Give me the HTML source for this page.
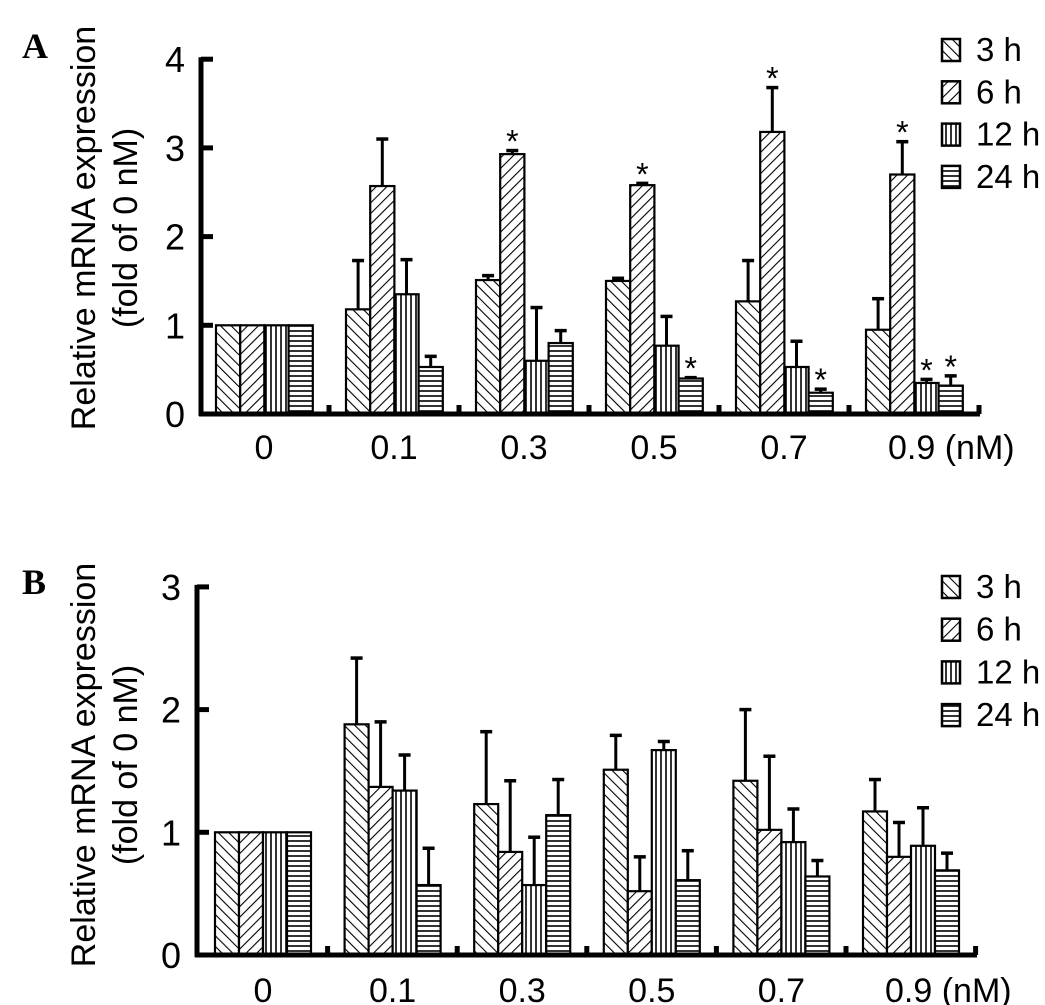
<!DOCTYPE html>
<html><head><meta charset="utf-8"><style>
html,body{margin:0;padding:0;background:#fff;}
svg{display:block;font-family:"Liberation Sans",sans-serif;}
</style></head><body>
<svg id="chart" width="1045" height="1005" viewBox="0 0 1045 1005">
<defs>
<pattern id="p3" patternUnits="userSpaceOnUse" width="7.5" height="7.5" patternTransform="rotate(-45)"><rect width="7.5" height="7.5" fill="#fff"/><line x1="0" y1="0" x2="0" y2="7.5" stroke="#000" stroke-width="2.2"/></pattern>
<pattern id="p6" patternUnits="userSpaceOnUse" width="7.5" height="7.5" patternTransform="rotate(45)"><rect width="7.5" height="7.5" fill="#fff"/><line x1="0" y1="0" x2="0" y2="7.5" stroke="#000" stroke-width="2.2"/></pattern>
<pattern id="p12" patternUnits="userSpaceOnUse" width="5" height="5"><rect width="5" height="5" fill="#fff"/><line x1="1" y1="0" x2="1" y2="5" stroke="#000" stroke-width="1.6"/></pattern>
<pattern id="p24" patternUnits="userSpaceOnUse" width="5" height="5"><rect width="5" height="5" fill="#fff"/><line x1="0" y1="1" x2="5" y2="1" stroke="#000" stroke-width="1.6"/></pattern>
</defs>
</svg>
<script>
const categories = ["0","0.1","0.3","0.5","0.7","0.9"];
const seriesNames = ["3 h","6 h","12 h","24 h"];
const aVal3 = [1,1.18,1.51,1.50,1.27,0.95];
const aVal6 = [1,2.57,2.93,2.58,3.18,2.70];
const aVal12 = [1,1.35,0.60,0.77,0.53,0.35];
const aVal24 = [1,0.53,0.80,0.40,0.24,0.32];
const aErr3 = [0,0.55,0.05,0.03,0.46,0.35];
const aErr6 = [0,0.53,0.04,0.02,0.50,0.37];
const aErr12 = [0,0.39,0.60,0.33,0.29,0.04];
const aErr24 = [0,0.12,0.14,0.01,0.04,0.11];
const aStar = [[0,0,0,0],[0,0,0,0],[0,1,0,0],[0,1,0,1],[0,1,0,1],[0,1,1,1]];
const aTicks = [0,1,2,3,4];
const bVal3 = [1,1.88,1.23,1.51,1.42,1.17];
const bVal6 = [1,1.37,0.84,0.52,1.02,0.80];
const bVal12 = [1,1.34,0.57,1.67,0.92,0.89];
const bVal24 = [1,0.57,1.14,0.61,0.64,0.69];
const bErr3 = [0,0.54,0.59,0.28,0.58,0.26];
const bErr6 = [0,0.53,0.58,0.28,0.60,0.28];
const bErr12 = [0,0.29,0.39,0.07,0.27,0.31];
const bErr24 = [0,0.30,0.29,0.24,0.13,0.14];
const bTicks = [0,1,2,3];

const NS="http://www.w3.org/2000/svg";
const svg=document.getElementById('chart');
function mk(tag,attrs,parent){const e=document.createElementNS(NS,tag);for(const k in attrs)e.setAttribute(k,attrs[k]);(parent||svg).appendChild(e);return e;}
const fills=["url(#p3)","url(#p6)","url(#p12)","url(#p24)"];

function panel(cfg){
  const g=mk('g',{});
  
  
  const y=v=>cfg.y0-v*cfg.unit;
  const x=(ci,si)=>cfg.gx0+ci*cfg.gstep+si*cfg.bw;
  const vals=cfg.vals, errs=cfg.errs;
  categories.forEach((c,ci)=>{
    for(let si=0;si<4;si++){
      const v=vals[si][ci], e=errs[si][ci];
      const bx=x(ci,si);
      if(e>0){
        const l=mk('line',{x1:bx+cfg.bw/2,x2:bx+cfg.bw/2,y1:y(v),y2:y(v+e),stroke:'#000','stroke-width':3},g);
        
        
        const cap=mk('line',{x1:bx+cfg.bw/2-6,x2:bx+cfg.bw/2+6,y1:y(v+e),y2:y(v+e),stroke:'#000','stroke-width':3.5},g);
        
        
      }
      const r=mk('rect',{x:bx,y:y(v),width:cfg.bw,height:v*cfg.unit,fill:fills[si],stroke:'#000','stroke-width':2.2},g);
      
      
      if(cfg.stars && cfg.stars[ci][si]){
        const t=mk('text',{x:bx+cfg.bw/2,y:y(v+e)+2,'text-anchor':'middle','font-size':32},g);
        t.textContent='*';
        
        
      }
    }
    const lab=mk('text',{x:cfg.gx0+ci*cfg.gstep+(ci==5?22:48),y:cfg.labelY,'text-anchor':ci==5?'start':'middle','font-size':34},g);
    lab.textContent=ci==5?c+' (nM)':c;
    
    
  });
  const ya=mk('line',{x1:cfg.ax,x2:cfg.ax,y1:y(cfg.ticks[cfg.ticks.length-1])-2,y2:cfg.y0+2,stroke:'#000','stroke-width':5},g);
  
  
  const xa=mk('line',{x1:cfg.ax-2,x2:cfg.axEnd,y1:cfg.y0,y2:cfg.y0,stroke:'#000','stroke-width':5},g);
  
  
  for(let k=1;k<=6;k++){
    const sx=cfg.gx0+k*cfg.gstep-17;
    const s=mk('line',{x1:sx,x2:sx,y1:cfg.y0-9,y2:cfg.y0,stroke:'#000','stroke-width':5},g);
    
    
  }
  cfg.ticks.forEach(t=>{
    const tl=mk('line',{x1:cfg.ax,x2:cfg.ax+12,y1:y(t),y2:y(t),stroke:'#000','stroke-width':5},g);
    
    
    const tt=mk('text',{x:cfg.ax-26,y:y(t)+13,'text-anchor':'middle','font-size':36},g);
    tt.textContent=t;
    
    
  });
  const cy=cfg.titleY;
  const t1=mk('text',{x:0,y:0,transform:`translate(95,${cy}) rotate(-90)`,'text-anchor':'middle','font-size':34},g);
  t1.textContent='Relative mRNA expression';
  
  
  const t2=mk('text',{x:0,y:0,transform:`translate(137,${cy}) rotate(-90)`,'text-anchor':'middle','font-size':34},g);
  t2.textContent='(fold of 0 nM)';
  
  
  const pl=mk('text',{x:22,y:cfg.letterY,'font-size':36,'font-weight':'bold','font-family':'Liberation Serif, serif'},g);
  pl.textContent=cfg.letter;
  
  
  seriesNames.forEach((n,i)=>{
    const ly=cfg.legY+i*cfg.legStep;
    const r=mk('rect',{x:942,y:ly-22,width:18,height:22,fill:fills[i],stroke:'#000','stroke-width':2.5},g);
    
    
    const t=mk('text',{x:976,y:ly,'font-size':33},g);
    t.textContent=n;
    
    
  });
}
panel({name:'panel-a',letter:'A',letterY:58,y0:414,unit:88.7,ax:201,axEnd:980,gx0:216,gstep:130,bw:24.2,
  vals:[aVal3,aVal6,aVal12,aVal24],errs:[aErr3,aErr6,aErr12,aErr24],stars:aStar,ticks:aTicks,
  labelY:459,titleY:228,legY:61,legStep:42.3});
panel({name:'panel-b',letter:'B',letterY:594,y0:955,unit:122.7,ax:197,axEnd:977,gx0:215,gstep:129.6,bw:24,
  vals:[bVal3,bVal6,bVal12,bVal24],errs:[bErr3,bErr6,bErr12,bErr24],stars:null,ticks:bTicks,
  labelY:1002,titleY:765,legY:598,legStep:42.7});
</script>
</body></html>
